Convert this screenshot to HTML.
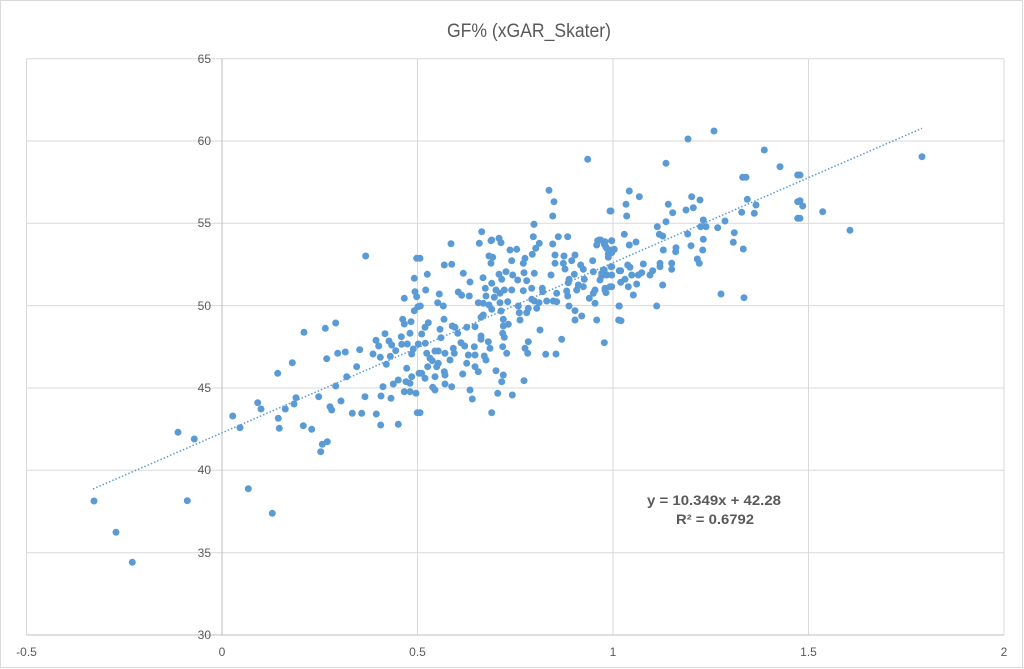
<!DOCTYPE html>
<html>
<head>
<meta charset="utf-8">
<style>
html,body{margin:0;padding:0;background:#fff;}
svg{display:block;}
text{font-family:"Liberation Sans",sans-serif;fill:#595959;}
</style>
</head>
<body>
<svg width="1024" height="669" viewBox="0 0 1024 669" xmlns="http://www.w3.org/2000/svg">
<rect x="0" y="0" width="1024" height="669" fill="#fff"/>
<rect x="0.5" y="0.5" width="1022" height="667" fill="none" stroke="#d9d9d9" stroke-width="1"/>
<text x="529" y="37" font-size="19" text-anchor="middle" textLength="164" lengthAdjust="spacingAndGlyphs">GF% (xGAR_Skater)</text>
<g stroke="#d9d9d9" stroke-width="1" fill="none">
<line x1="26.5" y1="58.7" x2="1004" y2="58.7"/>
<line x1="26.5" y1="141" x2="1004" y2="141"/>
<line x1="26.5" y1="223.3" x2="1004" y2="223.3"/>
<line x1="26.5" y1="305.6" x2="1004" y2="305.6"/>
<line x1="26.5" y1="388" x2="1004" y2="388"/>
<line x1="26.5" y1="470.3" x2="1004" y2="470.3"/>
<line x1="26.5" y1="552.7" x2="1004" y2="552.7"/>
<line x1="26.5" y1="58.7" x2="26.5" y2="635"/>
<line x1="417.5" y1="58.7" x2="417.5" y2="635"/>
<line x1="613" y1="58.7" x2="613" y2="635"/>
<line x1="808.5" y1="58.7" x2="808.5" y2="635"/>
<line x1="1004" y1="58.7" x2="1004" y2="635"/>
</g>
<g stroke="#bfbfbf" stroke-width="1">
<line x1="26.5" y1="635" x2="1004" y2="635"/>
<line x1="222" y1="58.7" x2="222" y2="635"/>
</g>
<g font-size="12" text-anchor="end">
<text x="211" y="63">65</text>
<text x="211" y="145">60</text>
<text x="211" y="227">55</text>
<text x="211" y="310">50</text>
<text x="211" y="392">45</text>
<text x="211" y="474">40</text>
<text x="211" y="557">35</text>
<text x="211" y="639">30</text>
</g>
<g font-size="12" text-anchor="middle">
<text x="26.5" y="656">-0.5</text>
<text x="222" y="656">0</text>
<text x="417.5" y="656">0.5</text>
<text x="613" y="656">1</text>
<text x="808.5" y="656">1.5</text>
<text x="1004" y="656">2</text>
</g>
<g fill="#5b9bd5">
<circle cx="365.7" cy="256" r="3.5"/><circle cx="416.7" cy="258.3" r="3.5"/><circle cx="414.3" cy="278.3" r="3.5"/><circle cx="415" cy="291.7" r="3.5"/><circle cx="416.7" cy="296.7" r="3.5"/><circle cx="404.3" cy="298.3" r="3.5"/><circle cx="414.3" cy="310.7" r="3.5"/><circle cx="418" cy="306.7" r="3.5"/><circle cx="402.7" cy="319.3" r="3.5"/><circle cx="404.3" cy="324" r="3.5"/><circle cx="411" cy="321.7" r="3.5"/><circle cx="304" cy="332.3" r="3.5"/><circle cx="325.3" cy="328.3" r="3.5"/><circle cx="335.7" cy="323" r="3.5"/><circle cx="385" cy="333.7" r="3.5"/><circle cx="401.3" cy="336.7" r="3.5"/><circle cx="410" cy="333.3" r="3.5"/><circle cx="376" cy="340.3" r="3.5"/><circle cx="378.7" cy="346" r="3.5"/><circle cx="389" cy="341" r="3.5"/><circle cx="391.7" cy="345" r="3.5"/><circle cx="401.7" cy="344.3" r="3.5"/><circle cx="407.3" cy="344" r="3.5"/><circle cx="418.3" cy="344" r="3.5"/><circle cx="413.3" cy="349" r="3.5"/><circle cx="395.7" cy="350.7" r="3.5"/><circle cx="359.7" cy="349.7" r="3.5"/><circle cx="337.7" cy="353.3" r="3.5"/><circle cx="345.3" cy="352" r="3.5"/><circle cx="373" cy="354" r="3.5"/><circle cx="380.3" cy="357.3" r="3.5"/><circle cx="390.3" cy="356.3" r="3.5"/><circle cx="411.7" cy="354" r="3.5"/><circle cx="326.7" cy="358.7" r="3.5"/><circle cx="292.3" cy="362.7" r="3.5"/><circle cx="386.3" cy="364.3" r="3.5"/><circle cx="356.7" cy="366.7" r="3.5"/><circle cx="406.7" cy="368.3" r="3.5"/><circle cx="277.7" cy="373.3" r="3.5"/><circle cx="346.7" cy="376.7" r="3.5"/><circle cx="411.7" cy="376.7" r="3.5"/><circle cx="419" cy="373.3" r="3.5"/><circle cx="398.3" cy="380" r="3.5"/><circle cx="393.3" cy="384" r="3.5"/><circle cx="406" cy="381.7" r="3.5"/><circle cx="410" cy="383.3" r="3.5"/><circle cx="383" cy="386.7" r="3.5"/><circle cx="335.7" cy="386" r="3.5"/><circle cx="404.3" cy="391.7" r="3.5"/><circle cx="410" cy="391.7" r="3.5"/><circle cx="416" cy="393.3" r="3.5"/><circle cx="318.7" cy="396.7" r="3.5"/><circle cx="365" cy="396.7" r="3.5"/><circle cx="381" cy="396" r="3.5"/><circle cx="391" cy="398.3" r="3.5"/><circle cx="257.7" cy="402.7" r="3.5"/><circle cx="261" cy="409" r="3.5"/><circle cx="296" cy="397.7" r="3.5"/><circle cx="294" cy="404" r="3.5"/><circle cx="341" cy="401" r="3.5"/><circle cx="330" cy="406.7" r="3.5"/><circle cx="331.7" cy="410" r="3.5"/><circle cx="285.3" cy="409" r="3.5"/><circle cx="352.3" cy="413.3" r="3.5"/><circle cx="361.7" cy="413.3" r="3.5"/><circle cx="376.3" cy="414" r="3.5"/><circle cx="417.3" cy="412.7" r="3.5"/><circle cx="232.7" cy="416" r="3.5"/><circle cx="278.3" cy="418.3" r="3.5"/><circle cx="240" cy="427.7" r="3.5"/><circle cx="279.3" cy="428.3" r="3.5"/><circle cx="303.3" cy="425.7" r="3.5"/><circle cx="311.7" cy="429.3" r="3.5"/><circle cx="380.7" cy="425" r="3.5"/><circle cx="398.3" cy="424.3" r="3.5"/>
<circle cx="322.3" cy="444.3" r="3.5"/><circle cx="327.3" cy="441.7" r="3.5"/><circle cx="320.7" cy="451.7" r="3.5"/><circle cx="248.3" cy="488.7" r="3.5"/><circle cx="272.3" cy="513.3" r="3.5"/>
<circle cx="178" cy="432.3" r="3.5"/><circle cx="194.3" cy="439" r="3.5"/><circle cx="94" cy="501" r="3.5"/><circle cx="187.3" cy="500.7" r="3.5"/><circle cx="116" cy="532.3" r="3.5"/><circle cx="132.3" cy="562.3" r="3.5"/>
<circle cx="587.7" cy="159.3" r="3.5"/><circle cx="549" cy="190.3" r="3.5"/><circle cx="554" cy="201.7" r="3.5"/><circle cx="552.7" cy="216" r="3.5"/><circle cx="534" cy="224.3" r="3.5"/><circle cx="481.7" cy="231.7" r="3.5"/><circle cx="610" cy="211" r="3.5"/><circle cx="491.7" cy="240" r="3.5"/><circle cx="499" cy="238.3" r="3.5"/><circle cx="533.3" cy="236.7" r="3.5"/><circle cx="558.3" cy="236.7" r="3.5"/><circle cx="567.7" cy="236.7" r="3.5"/><circle cx="599.3" cy="240" r="3.5"/>
<circle cx="534" cy="224.3" r="3.5"/><circle cx="501" cy="242.7" r="3.5"/><circle cx="491" cy="240.7" r="3.5"/><circle cx="479.3" cy="243.3" r="3.5"/><circle cx="451" cy="243.7" r="3.5"/><circle cx="539.3" cy="243.3" r="3.5"/><circle cx="535.7" cy="248.3" r="3.5"/><circle cx="552.7" cy="244" r="3.5"/><circle cx="597.7" cy="240.7" r="3.5"/><circle cx="605" cy="241.7" r="3.5"/><circle cx="611.7" cy="240.7" r="3.5"/><circle cx="596.7" cy="245" r="3.5"/><circle cx="606.7" cy="248.3" r="3.5"/><circle cx="611.7" cy="250" r="3.5"/><circle cx="510" cy="250" r="3.5"/><circle cx="516.7" cy="249.3" r="3.5"/><circle cx="532.3" cy="254.3" r="3.5"/><circle cx="555" cy="255" r="3.5"/><circle cx="564" cy="256" r="3.5"/><circle cx="575" cy="255" r="3.5"/><circle cx="608.3" cy="254" r="3.5"/><circle cx="489" cy="256" r="3.5"/><circle cx="492.7" cy="257.3" r="3.5"/><circle cx="511.7" cy="260.7" r="3.5"/><circle cx="525" cy="258.3" r="3.5"/><circle cx="523.3" cy="263.3" r="3.5"/><circle cx="491" cy="263.3" r="3.5"/><circle cx="555" cy="263.3" r="3.5"/><circle cx="563.3" cy="263.3" r="3.5"/><circle cx="571.7" cy="260.7" r="3.5"/><circle cx="580.7" cy="265" r="3.5"/><circle cx="592.7" cy="260.7" r="3.5"/><circle cx="444.3" cy="265" r="3.5"/><circle cx="451.7" cy="264.3" r="3.5"/><circle cx="565" cy="269" r="3.5"/><circle cx="583.3" cy="269.3" r="3.5"/><circle cx="604.3" cy="270" r="3.5"/><circle cx="611.7" cy="266.7" r="3.5"/><circle cx="619.3" cy="270.7" r="3.5"/><circle cx="420" cy="258.3" r="3.5"/><circle cx="463.3" cy="273.3" r="3.5"/><circle cx="427.3" cy="274.3" r="3.5"/><circle cx="506" cy="271.7" r="3.5"/><circle cx="499" cy="274.3" r="3.5"/><circle cx="512.7" cy="275" r="3.5"/><circle cx="524" cy="272.7" r="3.5"/><circle cx="534.3" cy="273.3" r="3.5"/><circle cx="551" cy="275" r="3.5"/><circle cx="574.3" cy="274.3" r="3.5"/><circle cx="593.3" cy="271.7" r="3.5"/><circle cx="601.7" cy="273.3" r="3.5"/><circle cx="606.7" cy="275" r="3.5"/><circle cx="483" cy="277.7" r="3.5"/><circle cx="501.7" cy="279.3" r="3.5"/><circle cx="517.7" cy="280" r="3.5"/><circle cx="526.7" cy="280.7" r="3.5"/><circle cx="470" cy="282" r="3.5"/><circle cx="491.7" cy="283.3" r="3.5"/><circle cx="569" cy="279.3" r="3.5"/><circle cx="584.3" cy="279.3" r="3.5"/><circle cx="600" cy="280" r="3.5"/><circle cx="568.3" cy="282.7" r="3.5"/><circle cx="578.3" cy="285" r="3.5"/><circle cx="583.3" cy="286.7" r="3.5"/><circle cx="425.7" cy="290" r="3.5"/><circle cx="485.3" cy="288.3" r="3.5"/><circle cx="496" cy="290" r="3.5"/><circle cx="504.3" cy="290" r="3.5"/><circle cx="511.7" cy="290" r="3.5"/><circle cx="523.3" cy="290.7" r="3.5"/><circle cx="531.7" cy="288.3" r="3.5"/><circle cx="542.3" cy="288.3" r="3.5"/><circle cx="542.7" cy="291.7" r="3.5"/><circle cx="556.7" cy="293.3" r="3.5"/><circle cx="566.7" cy="291" r="3.5"/><circle cx="576.7" cy="290" r="3.5"/><circle cx="595" cy="290" r="3.5"/><circle cx="605" cy="288.3" r="3.5"/><circle cx="611.7" cy="286.7" r="3.5"/><circle cx="593.3" cy="293.3" r="3.5"/><circle cx="439.3" cy="294" r="3.5"/><circle cx="458.3" cy="292" r="3.5"/><circle cx="461.7" cy="295.3" r="3.5"/><circle cx="469.3" cy="296" r="3.5"/><circle cx="486" cy="296" r="3.5"/><circle cx="494.3" cy="297.3" r="3.5"/><circle cx="500" cy="293.3" r="3.5"/><circle cx="567.7" cy="296" r="3.5"/><circle cx="589.3" cy="298.3" r="3.5"/><circle cx="531.7" cy="299.3" r="3.5"/><circle cx="437.7" cy="302.7" r="3.5"/><circle cx="443.3" cy="306" r="3.5"/><circle cx="478.3" cy="302.7" r="3.5"/><circle cx="483.3" cy="303.3" r="3.5"/><circle cx="489" cy="305" r="3.5"/><circle cx="500" cy="302.7" r="3.5"/><circle cx="507.7" cy="301.7" r="3.5"/><circle cx="534.3" cy="301" r="3.5"/><circle cx="539" cy="302.7" r="3.5"/><circle cx="546.7" cy="301" r="3.5"/><circle cx="553.3" cy="301" r="3.5"/><circle cx="556.7" cy="301.7" r="3.5"/><circle cx="420.3" cy="306" r="3.5"/><circle cx="491.7" cy="309.3" r="3.5"/><circle cx="501" cy="311" r="3.5"/><circle cx="518.3" cy="306" r="3.5"/><circle cx="528.3" cy="308.3" r="3.5"/><circle cx="536.7" cy="308.3" r="3.5"/><circle cx="569" cy="306" r="3.5"/><circle cx="575" cy="310.7" r="3.5"/><circle cx="595" cy="303.3" r="3.5"/><circle cx="619.3" cy="306" r="3.5"/><circle cx="519.3" cy="312.7" r="3.5"/><circle cx="526.7" cy="312.7" r="3.5"/><circle cx="483.3" cy="315" r="3.5"/><circle cx="481" cy="317.3" r="3.5"/><circle cx="503.3" cy="319.3" r="3.5"/><circle cx="520" cy="320" r="3.5"/><circle cx="581.7" cy="316" r="3.5"/><circle cx="575" cy="320" r="3.5"/><circle cx="596.7" cy="320" r="3.5"/><circle cx="618.7" cy="320" r="3.5"/><circle cx="444" cy="319.3" r="3.5"/><circle cx="428.3" cy="322.7" r="3.5"/><circle cx="425" cy="327.3" r="3.5"/><circle cx="508.3" cy="324.3" r="3.5"/><circle cx="452.3" cy="326" r="3.5"/><circle cx="455" cy="327.3" r="3.5"/><circle cx="466.7" cy="327.3" r="3.5"/><circle cx="475" cy="326.7" r="3.5"/><circle cx="440" cy="329.3" r="3.5"/><circle cx="503.3" cy="326" r="3.5"/><circle cx="540" cy="330" r="3.5"/><circle cx="421.7" cy="334" r="3.5"/><circle cx="457.7" cy="333.3" r="3.5"/><circle cx="481" cy="336" r="3.5"/><circle cx="502.7" cy="333.3" r="3.5"/><circle cx="504.3" cy="337.3" r="3.5"/><circle cx="441" cy="337.7" r="3.5"/><circle cx="481" cy="339.3" r="3.5"/><circle cx="561.7" cy="339.3" r="3.5"/><circle cx="528.3" cy="341.7" r="3.5"/><circle cx="604.3" cy="342.7" r="3.5"/><circle cx="461" cy="342.7" r="3.5"/><circle cx="464.7" cy="346" r="3.5"/><circle cx="488.3" cy="341.7" r="3.5"/><circle cx="502.7" cy="346.7" r="3.5"/><circle cx="490" cy="348.3" r="3.5"/><circle cx="474.3" cy="346.7" r="3.5"/><circle cx="425.3" cy="343.3" r="3.5"/><circle cx="435" cy="351" r="3.5"/><circle cx="438.3" cy="351" r="3.5"/><circle cx="445" cy="353.3" r="3.5"/><circle cx="453.3" cy="348.3" r="3.5"/><circle cx="454.3" cy="353.3" r="3.5"/><circle cx="468.3" cy="355" r="3.5"/><circle cx="475" cy="355" r="3.5"/><circle cx="484.3" cy="356" r="3.5"/><circle cx="506.7" cy="353.3" r="3.5"/><circle cx="525" cy="348.3" r="3.5"/><circle cx="527.7" cy="353.3" r="3.5"/><circle cx="545.7" cy="354.3" r="3.5"/><circle cx="556" cy="354" r="3.5"/><circle cx="426.7" cy="353.3" r="3.5"/><circle cx="430" cy="358.3" r="3.5"/><circle cx="432.3" cy="360.7" r="3.5"/><circle cx="438.3" cy="363.3" r="3.5"/><circle cx="450" cy="360" r="3.5"/><circle cx="466.7" cy="363.3" r="3.5"/><circle cx="486" cy="360" r="3.5"/><circle cx="427.7" cy="366.7" r="3.5"/><circle cx="436.7" cy="366.7" r="3.5"/><circle cx="444.3" cy="371.7" r="3.5"/><circle cx="445" cy="375" r="3.5"/><circle cx="475" cy="366.7" r="3.5"/><circle cx="478.3" cy="371.7" r="3.5"/><circle cx="496" cy="370.7" r="3.5"/><circle cx="462.7" cy="374" r="3.5"/><circle cx="421.7" cy="373.3" r="3.5"/><circle cx="425" cy="378.3" r="3.5"/><circle cx="435" cy="376.7" r="3.5"/><circle cx="503.3" cy="375" r="3.5"/><circle cx="501.7" cy="381.7" r="3.5"/><circle cx="524" cy="380.7" r="3.5"/><circle cx="445" cy="384" r="3.5"/><circle cx="451.7" cy="386.7" r="3.5"/><circle cx="432.7" cy="387.3" r="3.5"/><circle cx="435" cy="390" r="3.5"/><circle cx="470" cy="390" r="3.5"/><circle cx="497.7" cy="393.3" r="3.5"/><circle cx="512.3" cy="395" r="3.5"/><circle cx="472.3" cy="399" r="3.5"/><circle cx="420" cy="412.7" r="3.5"/><circle cx="491.7" cy="412.7" r="3.5"/>
<circle cx="764.3" cy="150" r="3.5"/><circle cx="666" cy="163.3" r="3.5"/><circle cx="780" cy="166.7" r="3.5"/><circle cx="797.7" cy="175" r="3.5"/><circle cx="742.7" cy="177.3" r="3.5"/><circle cx="746" cy="177.3" r="3.5"/><circle cx="629.3" cy="191" r="3.5"/><circle cx="639.3" cy="196.7" r="3.5"/><circle cx="691.7" cy="196.7" r="3.5"/><circle cx="700" cy="200" r="3.5"/><circle cx="747.3" cy="199.3" r="3.5"/><circle cx="756" cy="205" r="3.5"/><circle cx="797.7" cy="201.7" r="3.5"/><circle cx="626" cy="204.3" r="3.5"/><circle cx="668.3" cy="204.3" r="3.5"/><circle cx="611" cy="211" r="3.5"/><circle cx="686" cy="210" r="3.5"/><circle cx="693.3" cy="207.7" r="3.5"/><circle cx="672.7" cy="212.7" r="3.5"/><circle cx="741.7" cy="212.3" r="3.5"/><circle cx="754.3" cy="213.3" r="3.5"/><circle cx="626.7" cy="216" r="3.5"/><circle cx="703.3" cy="220" r="3.5"/><circle cx="666" cy="221.7" r="3.5"/><circle cx="725" cy="221" r="3.5"/><circle cx="797.7" cy="218.3" r="3.5"/><circle cx="657.3" cy="226.7" r="3.5"/><circle cx="700.7" cy="226.7" r="3.5"/><circle cx="706" cy="226.7" r="3.5"/><circle cx="717.7" cy="227.7" r="3.5"/><circle cx="734.3" cy="232.7" r="3.5"/><circle cx="659.3" cy="234.3" r="3.5"/><circle cx="662.7" cy="236" r="3.5"/><circle cx="687.7" cy="234" r="3.5"/><circle cx="624.3" cy="234.3" r="3.5"/><circle cx="600.7" cy="240" r="3.5"/><circle cx="611.7" cy="240.7" r="3.5"/><circle cx="604.3" cy="244" r="3.5"/><circle cx="605.7" cy="246.7" r="3.5"/><circle cx="629.3" cy="245" r="3.5"/><circle cx="636" cy="242" r="3.5"/><circle cx="703.3" cy="239.3" r="3.5"/><circle cx="733.3" cy="242.3" r="3.5"/><circle cx="691" cy="245.7" r="3.5"/><circle cx="676" cy="247.7" r="3.5"/><circle cx="614.3" cy="249.3" r="3.5"/><circle cx="663.3" cy="250" r="3.5"/><circle cx="702.7" cy="250" r="3.5"/><circle cx="743.3" cy="249" r="3.5"/><circle cx="675.7" cy="251.7" r="3.5"/><circle cx="611.7" cy="252.7" r="3.5"/><circle cx="608.3" cy="257.3" r="3.5"/><circle cx="697.3" cy="259" r="3.5"/><circle cx="699.3" cy="263.3" r="3.5"/><circle cx="660" cy="263.3" r="3.5"/><circle cx="671.7" cy="263.3" r="3.5"/><circle cx="627.7" cy="265" r="3.5"/><circle cx="643.3" cy="264" r="3.5"/><circle cx="611" cy="266.7" r="3.5"/><circle cx="603.3" cy="270" r="3.5"/><circle cx="620.7" cy="270.7" r="3.5"/><circle cx="630" cy="267.3" r="3.5"/><circle cx="660" cy="266.7" r="3.5"/><circle cx="671.7" cy="269.3" r="3.5"/><circle cx="652.7" cy="270.7" r="3.5"/><circle cx="641.7" cy="272.7" r="3.5"/><circle cx="638.3" cy="275" r="3.5"/><circle cx="631.7" cy="275" r="3.5"/><circle cx="650" cy="275" r="3.5"/><circle cx="611.7" cy="275" r="3.5"/><circle cx="601.7" cy="276" r="3.5"/><circle cx="625" cy="279.3" r="3.5"/><circle cx="620.7" cy="282.3" r="3.5"/><circle cx="636.7" cy="284" r="3.5"/><circle cx="662.7" cy="285" r="3.5"/><circle cx="628.3" cy="286.7" r="3.5"/><circle cx="610" cy="286.7" r="3.5"/><circle cx="605" cy="290" r="3.5"/><circle cx="606" cy="292.7" r="3.5"/><circle cx="633.3" cy="295" r="3.5"/><circle cx="721" cy="294" r="3.5"/><circle cx="744" cy="297.7" r="3.5"/><circle cx="619" cy="306" r="3.5"/><circle cx="656.7" cy="306" r="3.5"/><circle cx="621" cy="320.7" r="3.5"/>
<circle cx="688" cy="139" r="3.5"/><circle cx="714" cy="131" r="3.5"/>
<circle cx="922" cy="156.7" r="3.5"/><circle cx="800" cy="175" r="3.5"/><circle cx="802.7" cy="206" r="3.5"/><circle cx="800" cy="200.7" r="3.5"/><circle cx="800" cy="218.3" r="3.5"/><circle cx="822.7" cy="211.7" r="3.5"/><circle cx="850" cy="230.3" r="3.5"/>
</g>
<line x1="93" y1="489" x2="922" y2="128.3" stroke="#5b9bd5" stroke-width="1.5" stroke-dasharray="1.5 2"/>
<text x="714" y="505" font-size="14" font-weight="bold" text-anchor="middle" textLength="134" lengthAdjust="spacingAndGlyphs">y = 10.349x + 42.28</text>
<text x="715" y="524" font-size="14" font-weight="bold" text-anchor="middle" textLength="78" lengthAdjust="spacingAndGlyphs">R² = 0.6792</text>
</svg>
</body>
</html>
